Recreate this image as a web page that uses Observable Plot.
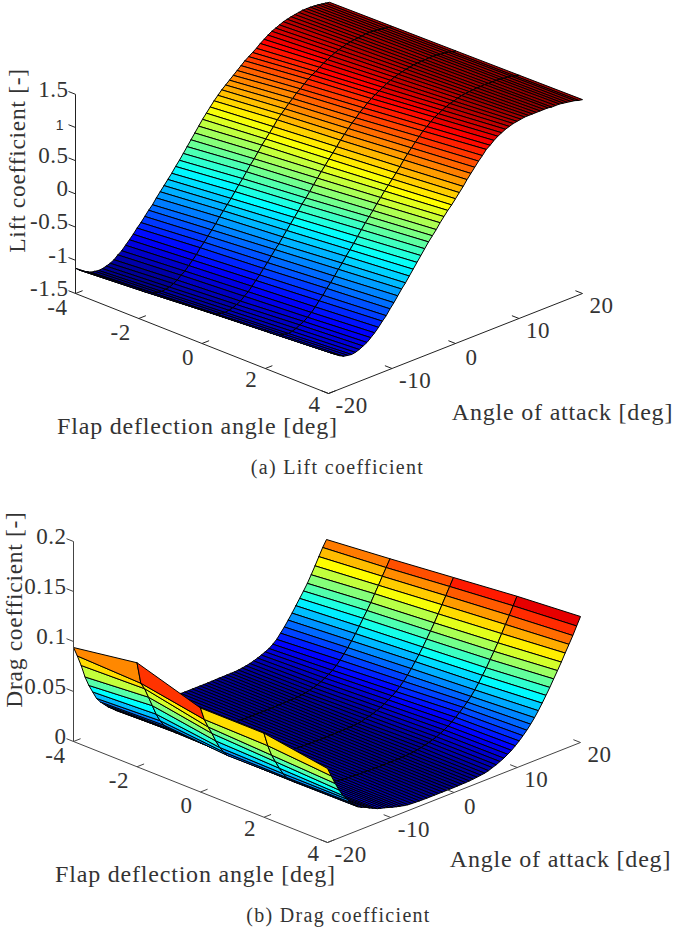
<!DOCTYPE html>
<html>
<head>
<meta charset="utf-8">
<script src="https://cdn.jsdelivr.net/npm/d3@7"></script>
<script src="https://cdn.jsdelivr.net/npm/@observablehq/plot@0.6"></script>
<style>
html,body{margin:0;padding:0;background:#fff;}
svg{display:block;}
g[font-size="23"]{letter-spacing:.5px;}
g[font-size="24"]{letter-spacing:.8px;}
g[font-size="23.5"]{letter-spacing:.7px;}
g[font-size="20"]{letter-spacing:1.3px;}
</style>
</head>
<body>
<div id="a"></div>
<div id="b"></div>
<script>
const flapValues = [-4, -2, 0, 2, 4];
const alphaValues = d3.range(67).map(i => -20 + i * 40 / 66);
const flapTicks = [-4, -2, 0, 2, 4];
const alphaTicks = [-20, -10, 0, 10, 20];
const liftTicks = [-1.5, -1, -0.5, 0, 0.5, 1, 1.5];
const dragTicks = [0, 0.05, 0.1, 0.15, 0.2];

const liftFlapM4 = [
-1.12,-1.17,-1.21,-1.24,-1.27,-1.28,-1.29,-1.285,-1.27,-1.25,
-1.22,-1.17,-1.13,-1.07,-1.01,-.95,-.88,-.82,-.75,-.68,
-.62,-.54,-.47,-.40,-.33,-.26,-.18,-.11,-.03,.05,
.13,.21,.29,.37,.44,.51,.58,.64,.70,.75,
.80,.85,.90,.95,1.00,1.04,1.08,1.12,1.17,1.21,
1.25,1.285,1.31,1.335,1.36,1.375,1.39,1.40,1.41,1.42,
1.42,1.42,1.415,1.41,1.40,1.39,1.38];
const liftFlapM2 = [
-1.05,-1.11,-1.15,-1.18,-1.21,-1.22,-1.23,-1.22,-1.21,-1.18,
-1.15,-1.10,-1.06,-1.00,-.94,-.88,-.80,-.74,-.67,-.60,
-.53,-.45,-.38,-.31,-.24,-.16,-.08,-.01,.07,.15,
.22,.30,.38,.45,.52,.59,.67,.73,.79,.85,
.90,.96,1.00,1.05,1.10,1.14,1.17,1.21,1.25,1.28,
1.31,1.34,1.36,1.38,1.40,1.41,1.42,1.425,1.43,1.44,
1.44,1.435,1.43,1.42,1.41,1.40,1.39];
const liftFlap0 = [
-.99,-1.04,-1.08,-1.12,-1.15,-1.16,-1.17,-1.16,-1.145,-1.12,
-1.09,-1.04,-.995,-.935,-.87,-.81,-.735,-.67,-.595,-.52,
-.455,-.375,-.30,-.225,-.15,-.075,.005,.075,.15,.23,
.305,.38,.45,.525,.595,.665,.74,.805,.87,.93,
.985,1.045,1.09,1.14,1.185,1.22,1.255,1.285,1.32,1.345,
1.37,1.39,1.405,1.42,1.43,1.44,1.445,1.45,1.45,1.455,
1.455,1.45,1.44,1.435,1.425,1.41,1.40];
const liftFlapP2 = [
-.92,-.98,-1.02,-1.06,-1.09,-1.10,-1.11,-1.10,-1.08,-1.05,
-1.02,-.98,-.93,-.87,-.80,-.74,-.66,-.595,-.52,-.44,
-.37,-.29,-.215,-.14,-.06,.02,.10,.17,.24,.32,
.39,.465,.53,.60,.67,.74,.82,.89,.955,1.02,
1.08,1.14,1.185,1.235,1.28,1.31,1.34,1.37,1.395,1.41,
1.43,1.445,1.455,1.46,1.465,1.47,1.47,1.475,1.47,1.47,
1.47,1.465,1.455,1.45,1.44,1.42,1.41];
const liftFlapP4 = [
-.86,-.92,-.96,-1.00,-1.03,-1.04,-1.05,-1.04,-1.02,-.99,
-.96,-.91,-.86,-.80,-.73,-.67,-.59,-.52,-.44,-.36,
-.29,-.21,-.13,-.05,.03,.11,.19,.26,.33,.41,
.48,.55,.61,.68,.75,.82,.90,.97,1.04,1.11,
1.17,1.24,1.28,1.33,1.37,1.40,1.43,1.45,1.47,1.48,
1.49,1.50,1.50,1.50,1.50,1.50,1.50,1.50,1.49,1.49,
1.49,1.48,1.47,1.46,1.45,1.43,1.42];

const dragFlapM4 = [
.094,.084,.073,.060,.050,.042,.034,.029,.025,.021,
.018,.0145,.0125,.011,.0105,.010,.0092,.0087,.0082,.0077,
.0073,.007,.0067,.0064,.0062,.006,.0058,.0057,.0056,.0055,
.0055,.0055,.0055,.0055,.0055,.0055,.0056,.0057,.0058,.0058,
.0059,.006,.006,.0063,.0068,.0075,.0083,.0094,.0107,.0122,
.0139,.0157,.0185,.0218,.0265,.0312,.0365,.042,.0479,.0537,
.0596,.0657,.0728,.0802,.0879,.0955,.102];
const dragFlapM2 = [
.104,.082,.075,.065,.055,.045,.037,.031,.0265,.023,
.019,.0165,.0145,.0125,.0113,.0105,.0097,.009,.0083,.0078,
.0074,.007,.0067,.0064,.0062,.006,.0058,.0056,.0055,.0054,
.0054,.0054,.0054,.0054,.0054,.0054,.0055,.0056,.0057,.0058,
.0059,.006,.0062,.0067,.0072,.0082,.0093,.0106,.0123,.0144,
.0167,.0191,.0224,.0263,.031,.0357,.041,.0467,.0526,.059,
.0653,.0717,.079,.086,.0935,.1007,.108];
const dragFlap0 = [
.084,.071,.062,.054,.045,.037,.031,.026,.0235,.0205,
.018,.0155,.0135,.012,.011,.010,.0092,.0086,.008,.0075,
.0071,.0067,.0064,.0061,.0059,.0057,.0056,.0055,.0054,.0053,
.0053,.0052,.0052,.0052,.0053,.0053,.0054,.0055,.0056,.0057,
.0059,.0062,.0068,.0081,.009,.0102,.0117,.0134,.0153,.0178,
.0203,.0231,.0266,.0304,.035,.04,.0455,.051,.057,.0635,
.07,.0767,.0842,.0918,.0994,.107,.1145];
const dragFlapP2 = [
.084,.070,.059,.051,.043,.036,.0305,.0265,.023,.0205,
.018,.0165,.015,.0135,.0125,.0115,.0105,.0095,.0085,.0076,
.007,.0065,.0062,.006,.0058,.0056,.0055,.0054,.0053,.0052,
.0051,.0051,.0051,.0051,.0052,.0052,.0053,.0055,.0058,.0062,
.0068,.0075,.0085,.0096,.0108,.0122,.0141,.0161,.0184,.0211,
.0241,.0275,.031,.0348,.039,.044,.0495,.0555,.0615,.0683,
.075,.082,.0897,.0973,.105,.113,.121];
const dragFlapP4 = [
.074,.065,.056,.048,.041,.036,.031,.027,.0235,.0215,
.020,.0178,.016,.0142,.013,.012,.0108,.0095,.0085,.0075,
.0066,.0059,.0056,.0054,.0052,.0051,.005,.005,.005,.005,
.005,.005,.005,.005,.0051,.0052,.0053,.0055,.0058,.0062,
.0067,.0072,.0082,.0097,.011,.0128,.0146,.017,.0194,.0225,
.0258,.0295,.0335,.038,.043,.0485,.0545,.0608,.0672,.0742,
.081,.088,.0955,.1027,.110,.118,.126];

const jetScale = d3.scaleLinear()
  .domain([0, 0.11, 0.375, 0.625, 0.875, 1])
  .range(["rgb(0,0,143)", "rgb(0,0,255)", "rgb(0,255,255)", "rgb(255,255,0)", "rgb(255,0,0)", "rgb(128,0,0)"])
  .clamp(true);
const jet = t => jetScale(t);

const serif = "'Liberation Serif', serif";
const ink = "#333";

function chart(cfg) {
  const {grid, origin, flapVec, alphaVec, zUnit, zBase, zTicks, zLabel, h} = cfg;
  if (grid.some(s => s.length !== alphaValues.length)) throw new Error("bad length " + grid.map(s => s.length));
  const px = (f, a) => origin[0] + (f + 4) / 8 * flapVec[0] + (a + 20) / 40 * alphaVec[0];
  const py = (f, a, z) => origin[1] + (f + 4) / 8 * flapVec[1] + (a + 20) / 40 * alphaVec[1] - (z - zBase) * zUnit;

  // Back to front: far alpha first, far flap first.
  const rows = [];
  let id = 0;
  for (let j = alphaValues.length - 2; j >= 0; j--) {
    for (let i = 0; i < flapValues.length - 1; i++) {
      const v = grid[i][j];
      for (const [ii, jj] of [[i, j], [i + 1, j], [i + 1, j + 1], [i, j + 1], [i, j]]) {
        rows.push({
          id, v,
          x: px(flapValues[ii], alphaValues[jj]),
          y: py(flapValues[ii], alphaValues[jj], grid[ii][jj])
        });
      }
      id++;
    }
  }

  const seg = (p, q) => ({x1: p[0], y1: p[1], x2: q[0], y2: q[1]});
  const axes = [
    seg([px(-4, -20), py(-4, -20, zBase)], [px(4, -20), py(4, -20, zBase)]),
    seg([px(4, -20), py(4, -20, zBase)], [px(4, 20), py(4, 20, zBase)]),
    seg([px(-4, -20), py(-4, -20, zBase)], [px(-4, -20), py(-4, -20, zTicks[zTicks.length - 1])])
  ];
  const tl = 0.028;
  const ticks = [
    ...flapTicks.map(f => seg([px(f, -20), py(f, -20, zBase)], [px(f, -20 + 40 * tl), py(f, -20 + 40 * tl, zBase)])),
    ...alphaTicks.map(a => seg([px(4, a), py(4, a, zBase)], [px(4 - 8 * tl, a), py(4 - 8 * tl, a, zBase)])),
    ...zTicks.map(z => seg([px(-4, -20), py(-4, -20, z)], [px(-4, -20) - 7, py(-4, -20, z) - 2.8]))
  ];

  const common = {fontFamily: serif, fill: ink, fontSize: 23, lineAnchor: "middle"};
  const plainZ = zTicks.filter(z => !(cfg.sansTick === z));
  const marks = [
    Plot.line(rows, {x: "x", y: "y", z: "id", fill: "v", stroke: "#000", strokeWidth: 1, strokeLinejoin: "round"}),
    Plot.link(axes, {x1: "x1", y1: "y1", x2: "x2", y2: "y2", stroke: cfg.axisInk, strokeWidth: 1}),
    Plot.link(ticks, {x1: "x1", y1: "y1", x2: "x2", y2: "y2", stroke: cfg.axisInk, strokeWidth: 1}),
    Plot.text(plainZ, {x: () => px(-4, -20), y: z => py(-4, -20, z), text: z => String(z), textAnchor: "end", dx: -7, dy: -5, ...common}),
    Plot.text(flapTicks, {x: f => px(f, -20), y: f => py(f, -20, zBase) + (f >= 2 ? 11 : 14), text: f => String(f), textAnchor: "end", dx: -8, ...common}),
    Plot.text(alphaTicks, {x: a => px(4, a) + (a === 0 ? 3 : 0), y: a => py(4, a, zBase) + (a === 0 ? 14 : 12), text: a => String(a), textAnchor: "start", dx: 7, ...common}),
    Plot.text([cfg.flapTitle], {x: cfg.flapTitleX, y: cfg.flapTitleY, text: d => d, textAnchor: "middle", ...common, fontSize: 24}),
    Plot.text([cfg.alphaTitle], {x: cfg.alphaTitleX, y: cfg.alphaTitleY, text: d => d, textAnchor: "middle", ...common, fontSize: 24}),
    Plot.text([zLabel], {x: cfg.zTitleX, y: cfg.zTitleY, text: d => d, rotate: -90, textAnchor: "middle", ...common, fontSize: 23.5}),
    Plot.text([cfg.caption], {x: cfg.captionX, y: cfg.captionY, text: d => d, textAnchor: "middle", ...common, fontSize: 20})
  ];
  if (cfg.sansTick !== undefined) {
    marks.push(Plot.text([cfg.sansTick], {
      x: () => px(-4, -20), y: z => py(-4, -20, z), text: z => String(z), textAnchor: "end",
      dx: -12, dy: -2, fontFamily: "'Liberation Sans', sans-serif", fontSize: 14, fill: ink, lineAnchor: "middle"
    }));
  }
  return Plot.plot({
    width: 674,
    height: h,
    margin: 0,
    x: {domain: [0, 674], range: [0, 674], axis: null},
    y: {domain: [0, h], range: [0, h], axis: null},
    color: {type: "linear", domain: cfg.colorDomain, interpolate: jet, clamp: true},
    style: {background: "#fff", overflow: "visible"},
    marks
  });
}

document.getElementById("a").append(chart({
  grid: [liftFlapM4, liftFlapM2, liftFlap0, liftFlapP2, liftFlapP4],
  origin: [75, 293], flapVec: [253, 100], alphaVec: [254, -100],
  zUnit: 66.4, zBase: -1.5, zTicks: liftTicks, sansTick: 1,
  zLabel: "Lift coefficient [-]", axisInk: "#222",
  colorDomain: [-1.29, 1.52], h: 480,
  flapTitle: "Flap deflection angle [deg]", flapTitleX: 197, flapTitleY: 426,
  alphaTitle: "Angle of attack [deg]", alphaTitleX: 562, alphaTitleY: 412,
  zTitleX: 17, zTitleY: 160,
  caption: "(a) Lift coefficient", captionX: 337, captionY: 467
}));
document.getElementById("b").append(chart({
  grid: [dragFlapM4, dragFlapM2, dragFlap0, dragFlapP2, dragFlapP4],
  origin: [73, 261], flapVec: [254, 101], alphaVec: [253, -100],
  zUnit: 1000, zBase: 0, zTicks: dragTicks,
  zLabel: "Drag coefficient [-]", axisInk: "#444",
  colorDomain: [0.005, 0.125], h: 451,
  flapTitle: "Flap deflection angle [deg]", flapTitleX: 195, flapTitleY: 394,
  alphaTitle: "Angle of attack [deg]", alphaTitleX: 560, alphaTitleY: 379,
  zTitleX: 14, zTitleY: 129,
  caption: "(b) Drag coefficient", captionX: 338, captionY: 435
}));
</script>
</body>
</html>
